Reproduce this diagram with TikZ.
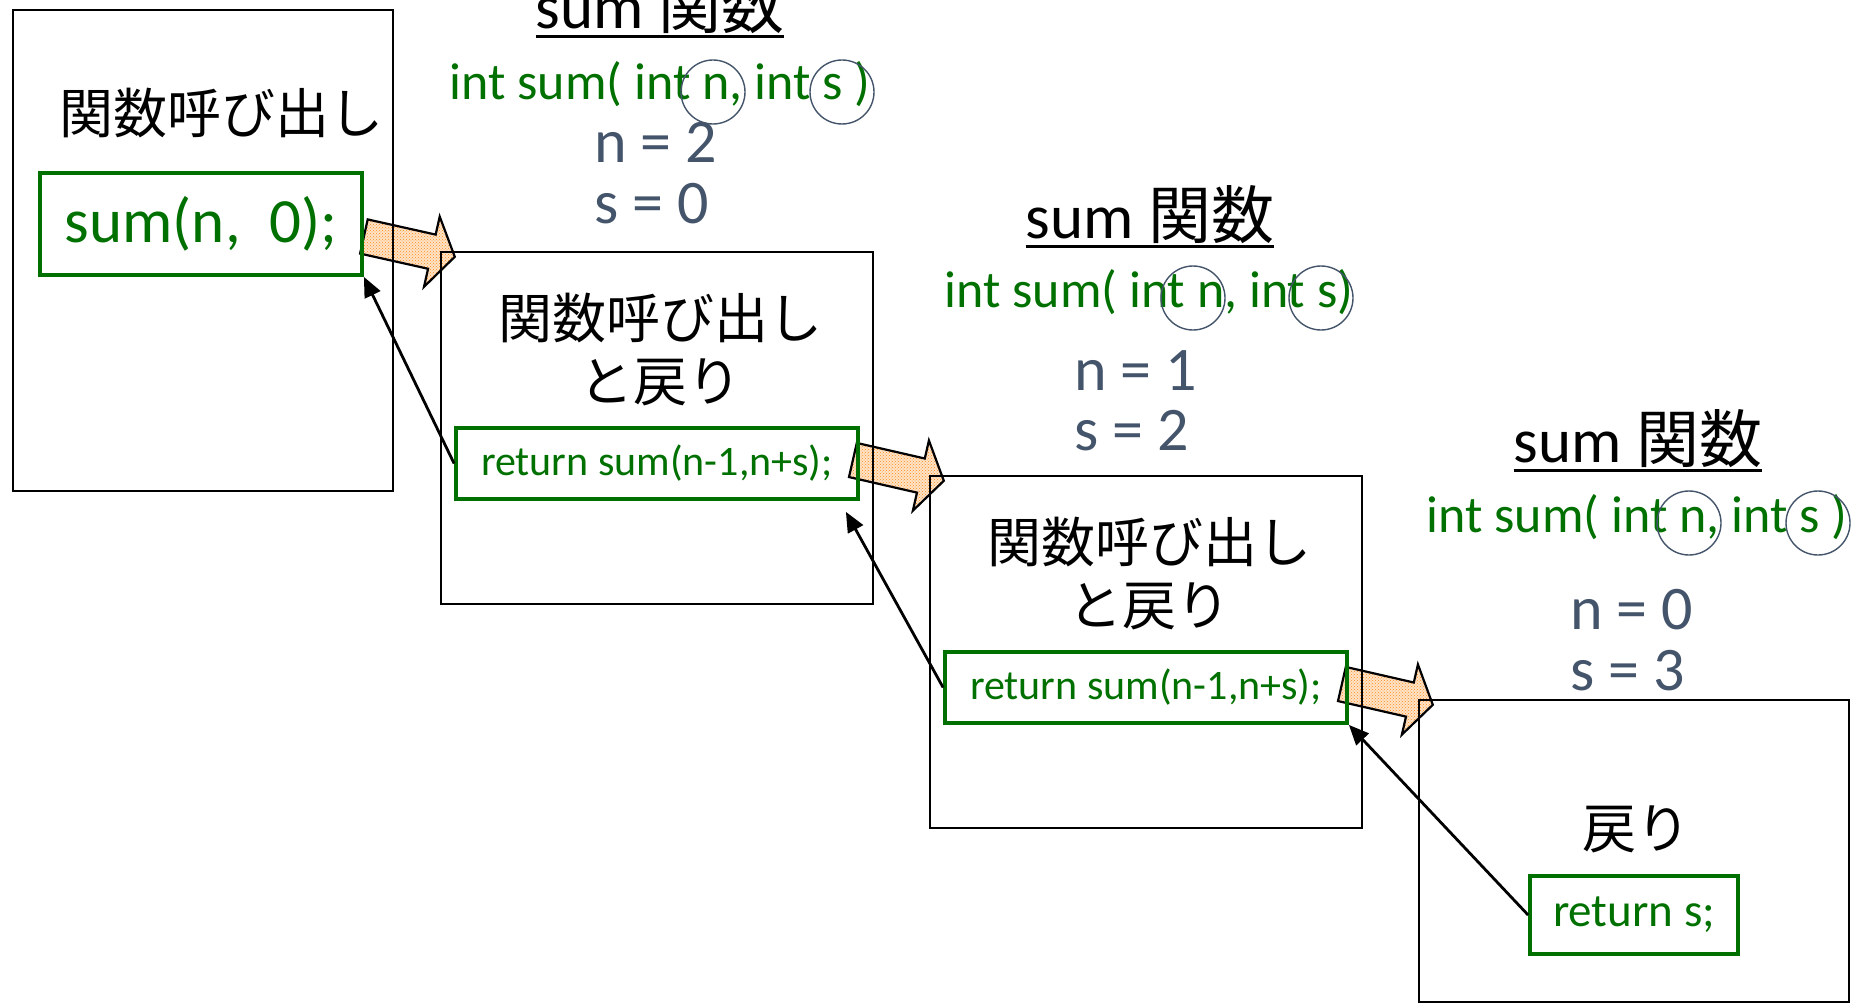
\documentclass[tikz,border=0pt]{standalone}
\usepackage{fontspec}
\setmainfont{Carlito}
\newfontfamily\jp{Noto Sans CJK JP}
\usetikzlibrary{calc}
\usetikzlibrary{positioning,arrows.meta,patterns,backgrounds}
\definecolor{codegreen}{RGB}{0,112,0}
\definecolor{valgray}{RGB}{68,84,106}

% block arrow from a call to the next frame
\newcommand{\callarrow}[2]{%
  \path[callarrow] let \p1=(#1), \p2=(#2),
      \n1={atan2(\y2-\y1,\x2-\x1)}, \n2={veclen(\x2-\x1,\y2-\y1)}, \n3={\n2-23.5pt}
    in ($(\p1)+(\n1+90:17.5pt)$)
    -- ($(\p1)+(\n1:\n3)+(\n1+90:17.5pt)$)
    -- ($(\p1)+(\n1:\n3)+(\n1+90:36pt)$)
    -- (\p2)
    -- ($(\p1)+(\n1:\n3)+(\n1-90:36pt)$)
    -- ($(\p1)+(\n1:\n3)+(\n1-90:17.5pt)$)
    -- ($(\p1)+(\n1-90:17.5pt)$) -- cycle;}

\begin{document}
\begin{tikzpicture}[x=1pt,y=-1pt,
    frame/.style={rectangle, draw, line width=2.4pt, minimum width=432pt, minimum height=352pt, inner sep=0pt},
    codebox/.style={rectangle, draw=codegreen, line width=3.8pt, text=codegreen, inner sep=0pt},
    jlabel/.style={font=\jp\fontsize{54}{63}\selectfont, align=center, inner sep=0pt},
    title/.style={font=\fontsize{63}{70}\selectfont, anchor=base, inner sep=0pt},
    proto/.style={font=\fontsize{52}{60}\selectfont, text=codegreen, anchor=base, inner sep=0pt},
    value/.style={font=\fontsize{62}{62}\selectfont, text=valgray, anchor=base west, inner sep=0pt},
    argring/.style={circle, draw=valgray, line width=1.4pt, minimum size=64pt, inner sep=0pt},
    callarrow/.style={draw, line width=2.2pt, pattern=crosshatch dots, pattern color=orange!90, preaction={fill=orange!22}},
    retarrow/.style={-{Triangle[length=20pt,width=17pt]}, line width=2.8pt}]
    \useasboundingbox (0,0) rectangle (1855,1003);

    %% Caller
    \node[frame, minimum width=380pt, minimum height=481pt] (b1) at (203,250.5) {};
    \node[jlabel] (l1) at (221,113) {関数呼び出し};
    \node[codebox, minimum width=322pt, minimum height=102pt, font=\fontsize{63}{63}\selectfont] (g1) at (201,224) {sum(n,\ \ 0);};

    %% sum(2,0)
    \node[frame] (b2) at (657,428) {};
    \node[title] (t1) at (660,29) {sum {\jp 関数}};
    \draw[line width=3pt] ([yshift=-8pt]t1.base west) -- ([yshift=-8pt]t1.base east);
    \node[proto] (p1) at (660,100) {int sum( int n, int s )};
    \node[argring] (rn1) at (713,92) {};
    \node[argring] (rs1) at (842,92) {};
    \node[value] (n1) at (594,163) {n = 2};
    \node[value] (s1) at (594,223) {s = 0};
    \node[jlabel] (l2) at (660,350) {関数呼び出し\\と戻り};
    \node[codebox, minimum width=402pt, minimum height=71pt, font=\fontsize{42}{42}\selectfont] (g2) at (657,463.5) {return sum(n-1,n+s);};

    %% sum(1,2)
    \node[frame] (b3) at (1146,652) {};
    \node[title] (t2) at (1150,238) {sum {\jp 関数}};
    \draw[line width=3pt] ([yshift=-8pt]t2.base west) -- ([yshift=-8pt]t2.base east);
    \node[proto] (p2) at (1149,307) {int sum( int n, int s)};
    \node[argring] (rn2) at (1193,298) {};
    \node[argring] (rs2) at (1321,298) {};
    \node[value] (n2) at (1074,390) {n = 1};
    \node[value] (s2) at (1074,450) {s = 2};
    \node[jlabel] (l3) at (1149,574) {関数呼び出し\\と戻り};
    \node[codebox, minimum width=402pt, minimum height=71pt, font=\fontsize{42}{42}\selectfont] (g3) at (1146,687.5) {return sum(n-1,n+s);};

    %% sum(0,3)
    \node[frame, minimum width=430pt, minimum height=302pt] (b4) at (1634,851) {};
    \node[title] (t3) at (1638,462) {sum {\jp 関数}};
    \draw[line width=3pt] ([yshift=-8pt]t3.base west) -- ([yshift=-8pt]t3.base east);
    \node[proto] (p3) at (1637,532) {int sum( int n, int s )};
    \node[argring] (rn3) at (1689,523) {};
    \node[argring] (rs3) at (1818,523) {};
    \node[value] (n3) at (1570,629) {n = 0};
    \node[value] (s3) at (1570,690) {s = 3};
    \node[jlabel] (l4) at (1636,829) {戻り};
    \node[codebox, minimum width=208pt, minimum height=78pt, font=\fontsize{47}{47}\selectfont] (g4) at (1634,915) {return s;};

    %% Calls
    \begin{scope}[on background layer]
        \callarrow{$(g1.east)+(0,12.5)$}{$(b2.north west)+(15,6)$}
        \callarrow{$(g2.east)+(-7,-3.5)$}{$(b3.north west)+(15,6)$}
        \callarrow{$(g3.east)+(-7,-3.5)$}{$(b4.north west)+(15,6)$}
    \end{scope}

    %% Returns
    \draw[retarrow] (g2.west) -- (g1.south east);
    \draw[retarrow] (g3.west) -- ($(g2.south east)+(-14,11)$);
    \draw[retarrow] (g4.west) -- (g3.south east);
\end{tikzpicture}
\end{document}
